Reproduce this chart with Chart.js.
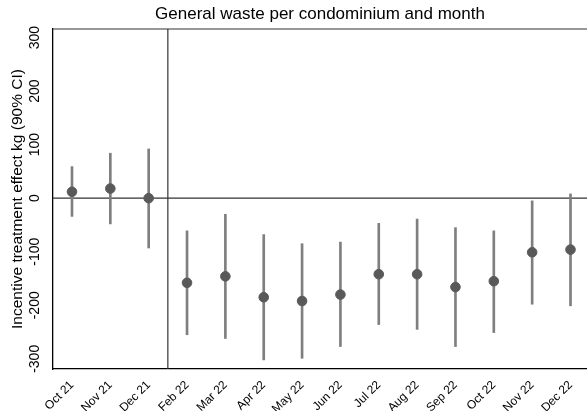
<!DOCTYPE html>
<html>
<head>
<meta charset="utf-8">
<script src="https://cdn.jsdelivr.net/npm/chart.js@4"></script>
<style>
  html, body { margin: 0; padding: 0; background: #fff; }
  #wrap { width: 587px; height: 411px; }
</style>
</head>
<body>
<div id="wrap"><canvas id="wasteChart" width="587" height="411"></canvas></div>
<script>
// ===== DATOS =====
const months = ['Oct 21', 'Nov 21', 'Dec 21', 'Feb 22', 'Mar 22', 'Apr 22', 'May 22',
  'Jun 22', 'Jul 22', 'Aug 22', 'Sep 22', 'Oct 22', 'Nov 22', 'Dec 22'];
const effect = [12, 18, 0, -158, -146, -185, -192, -180, -142, -142, -166, -155, -101, -96];
const ciLow = [-34, -48, -93, -255, -262, -302, -299, -277, -236, -245, -277, -251, -198, -201];
const ciHigh = [59, 84, 92, -61, -30, -68, -85, -82, -47, -39, -55, -61, -5, 8];
const yTicks = [-300, -200, -100, 0, 100, 200, 300];
const treatmentStart = 2.5; // linea entre Dec 21 y Feb 22
const zeroLine = 0;

const font = 'Liberation Sans, Arial, Helvetica, sans-serif';

// lineas de referencia y borde superior
const refLines = {
  id: 'refLines',
  beforeDatasetsDraw(chart) {
    const { ctx, chartArea, scales } = chart;
    const x0 = scales.x.getPixelForValue(treatmentStart);
    const y0 = scales.y.getPixelForValue(zeroLine);
    ctx.save();
    ctx.strokeStyle = '#333';
    ctx.lineWidth = 1.2;
    ctx.beginPath();
    ctx.moveTo(chartArea.left, y0);
    ctx.lineTo(chartArea.right, y0);
    ctx.moveTo(x0, chartArea.top);
    ctx.lineTo(x0, chartArea.bottom);
    ctx.moveTo(chartArea.left, chartArea.top);
    ctx.lineTo(chartArea.right, chartArea.top);
    ctx.stroke();
    ctx.restore();
  }
};

const ctx = document.getElementById('wasteChart').getContext('2d');
new Chart(ctx, {
  data: {
    datasets: [
      {
        type: 'scatter',
        data: months.map((m, i) => ({ x: i, y: effect[i] })),
        backgroundColor: '#595959',
        borderColor: '#595959',
        pointRadius: 4.8,
        order: 0
      },
      {
        type: 'bar',
        data: months.map((m, i) => ({ x: i, y: [ciLow[i], ciHigh[i]] })),
        backgroundColor: '#7f7f7f',
        borderWidth: 0,
        barThickness: 2,
        order: 1
      }
    ]
  },
  options: {
    responsive: false,
    animation: false,
    layout: { padding: 0, autoPadding: false },
    plugins: {
      legend: { display: false },
      tooltip: { enabled: false },
      title: {
        display: true,
        fullSize: false,
        text: 'General waste per condominium and month',
        color: '#000',
        font: { family: font, size: 17, weight: 'normal', lineHeight: 1.2 },
        padding: { top: 4, bottom: 4.6 }
      }
    },
    scales: {
      x: {
        type: 'linear',
        min: -0.495,
        max: 13.43,
        offset: false,
        grid: { display: false, drawTicks: true, tickLength: 5, tickColor: '#000' },
        border: { display: true, color: '#000', width: 1.3 },
        afterBuildTicks: (axis) => { axis.ticks = months.map((m, i) => ({ value: i })); },
        afterFit: (axis) => {
          axis.height = 42;
          axis.paddingLeft = 0;
          axis.paddingRight = 0;
        },
        ticks: {
          autoSkip: false,
          minRotation: 45,
          maxRotation: 45,
          padding: 4,
          color: '#000',
          font: { family: font, size: 12 },
          callback: (v) => months[v]
        }
      },
      y: {
        min: -319,
        max: 316,
        grid: { display: false, drawTicks: true, tickLength: 5, tickColor: '#000' },
        border: { display: true, color: '#000', width: 1.3 },
        afterBuildTicks: (axis) => { axis.ticks = yTicks.map(v => ({ value: v })); },
        afterFit: (axis) => { axis.width = 53; },
        title: {
          display: true,
          text: 'Incentive treatment effect kg (90% CI)',
          color: '#000',
          font: { family: font, size: 15.5 },
          padding: { top: 8, bottom: 0 }
        },
        ticks: {
          minRotation: 90,
          maxRotation: 90,
          crossAlign: 'center',
          padding: -1.5,
          color: '#000',
          font: { family: font, size: 14 }
        }
      }
    }
  },
  plugins: [refLines]
});
</script>
</body>
</html>
